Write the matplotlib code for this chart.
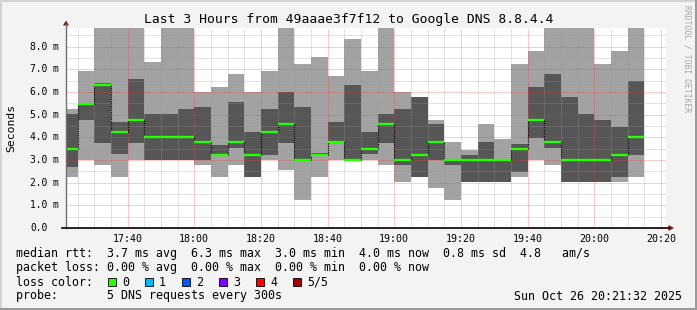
import matplotlib
matplotlib.use('Agg')
import matplotlib.pyplot as plt
import numpy as np
from matplotlib.lines import Line2D
from matplotlib.patches import Polygon, Rectangle
from matplotlib.transforms import blended_transform_factory

W, H = 697, 310
MONO = 'DejaVu Sans Mono'

# time axis in minutes after 17:00, window 17:21:32 -> 20:21:32
t_start = 21 + 32 / 60
t_end = t_start + 180
# bar edges: first partial bar, then 5 minute steps up to 20:15
edges = np.concatenate([[t_start], np.arange(25, 196, 5)])

# smoke values (ms): max, 4th, median, 2nd, min of 5 pings; 9.9 = off the top
rtt_max = [5.26, 6.93, 9.9, 9.9, 9.9, 7.34, 9.9, 9.9, 6.02, 6.23,
           6.80, 6.02, 6.93, 9.9, 7.24, 7.55, 6.71, 8.34, 6.93, 9.9,
           6.00, 5.79, 4.77, 3.80, 3.44, 4.57, 3.94, 7.24, 7.81, 9.9,
           9.9, 9.9, 7.24, 7.81, 9.9]
rtt_p4 = [5.04, 5.50, 6.38, 4.68, 6.58, 5.04, 5.04, 5.26, 5.35, 3.67,
          5.57, 4.23, 5.26, 6.00, 5.35, 3.30, 4.68, 6.31, 4.26, 5.04,
          5.26, 5.79, 4.57, 3.03, 3.23, 3.80, 3.03, 3.72, 6.23, 6.80,
          5.79, 5.04, 4.77, 4.46, 6.49]
rtt_med = [3.47, 5.46, 6.33, 4.26, 4.77, 4.01, 4.01, 4.01, 3.79, 3.23,
           3.79, 3.23, 4.26, 4.57, 3.01, 3.23, 3.79, 3.01, 3.48, 4.57,
           3.01, 3.23, 3.79, 3.01, 3.01, 3.01, 3.01, 3.47, 4.77, 3.79,
           3.01, 3.01, 3.01, 3.23, 4.01]
rtt_p2 = [2.70, 4.77, 3.77, 3.25, 3.77, 3.01, 3.01, 3.01, 3.01, 3.20,
          3.54, 2.23, 3.23, 3.77, 3.01, 3.20, 3.74, 3.01, 3.25, 3.77,
          2.76, 2.23, 3.01, 2.76, 2.01, 2.01, 2.01, 2.47, 3.98, 3.54,
          2.01, 2.01, 2.01, 2.23, 3.23]
rtt_min = [2.23, 3.01, 2.76, 2.23, 3.01, 3.01, 3.01, 3.01, 2.76, 2.23,
           2.76, 2.23, 3.01, 2.54, 1.22, 2.23, 3.01, 3.01, 3.01, 2.76,
           2.01, 2.23, 1.78, 1.22, 2.01, 2.01, 2.01, 2.23, 3.01, 2.76,
           2.01, 2.01, 2.01, 2.01, 2.23]

x_ticks = [40, 60, 80, 100, 120, 140, 160, 180, 200]
x_labels = ['17:40', '18:00', '18:20', '18:40', '19:00', '19:20', '19:40', '20:00', '20:20']
y_ticks = [0, 1, 2, 3, 4, 5, 6, 7, 8]
y_labels = ['0.0', '1.0 m', '2.0 m', '3.0 m', '4.0 m', '5.0 m', '6.0 m', '7.0 m', '8.0 m']

loss_labels = ['0', '1', '2', '3', '4', '5/5']
loss_colors = ['#26ff00', '#00b8ff', '#0059ff', '#7e00ff', '#ff0000', '#a00000']

legend_lines = [
    'median rtt:  3.7 ms avg  6.3 ms max  3.0 ms min  4.0 ms now  0.8 ms sd  4.8   am/s',
    'packet loss: 0.00 % avg  0.00 % max  0.00 % min  0.00 % now',
    'loss color:',
    'probe:       5 DNS requests every 300s',
]
stamp = 'Sun Oct 26 20:21:32 2025'
title = 'Last 3 Hours from 49aaae3f7f12 to Google DNS 8.8.4.4'


def fx(x):
    return x / W


def fy(y):
    return 1 - y / H


fig = plt.figure(figsize=(W / 100, H / 100), dpi=100, facecolor='#f3f3f3')

# outer 3d border
fig.add_artist(Rectangle((0, fy(2)), 1, 2 / H, transform=fig.transFigure, color='#d4d4d4', lw=0))
fig.add_artist(Rectangle((0, 0), 2 / W, 1, transform=fig.transFigure, color='#d4d4d4', lw=0))
fig.add_artist(Rectangle((0, 0), 1, 2 / H, transform=fig.transFigure, color='#9a9a9a', lw=0))
fig.add_artist(Rectangle((fx(W - 2), 0), 2 / W, 1, transform=fig.transFigure, color='#9a9a9a', lw=0))

ax = fig.add_axes([fx(66), fy(228), 600 / W, 200 / H])
ax.set_facecolor('white')
ax.set_xlim(t_start, t_end)
ax.set_ylim(0, 8.83)
for s in ax.spines.values():
    s.set_visible(False)

lefts = edges[:len(rtt_med)]
rights = np.append(edges[1:], 200)[:len(rtt_med)]
widths = rights - lefts

mx = np.array(rtt_max)
p4 = np.array(rtt_p4)
md = np.array(rtt_med)
p2 = np.array(rtt_p2)
mn = np.array(rtt_min)

# smoke
ax.bar(lefts, mx - mn, bottom=mn, width=widths, align='edge', color='#a2a2a2', lw=0, zorder=1)
ax.bar(lefts, p4 - p2, bottom=p2, width=widths, align='edge', color='#565656', lw=0, zorder=1.5)

# grid on top of the smoke
ax.set_xticks(x_ticks)
ax.set_xticks(np.arange(25, 201, 5), minor=True)
ax.set_yticks(y_ticks)
ax.set_yticks(np.arange(0.5, 8.6, 1.0), minor=True)
ax.set_axisbelow(False)
ax.grid(which='minor', color='#9a9a9a', alpha=0.55, lw=0.72, dashes=(1, 1))
ax.grid(which='major', color='#ff3030', alpha=0.5, lw=0.72, dashes=(1, 1))
ax.tick_params(which='both', length=0)
ax.set_yticklabels([])
ax.set_xticklabels(x_labels, fontsize=7.2, family=MONO, color='black')
ax.tick_params(axis='x', pad=4)

# median line, step connectors
for i in range(len(md)):
    ax.plot([lefts[i], rights[i]], [md[i], md[i]], color='#26ff00', lw=1.7,
            solid_capstyle='butt', zorder=4)
    if i > 0 and md[i] != md[i - 1]:
        ax.plot([lefts[i], lefts[i]], [md[i - 1], md[i]], color='black', lw=0.8,
                dashes=(1, 1), zorder=3.5)

# y tick labels, left aligned at x=30 px
tr = blended_transform_factory(fig.transFigure, ax.transData)
for v, lab in zip(y_ticks, y_labels):
    fig.text(fx(30), v, lab, transform=tr, fontsize=6.9, family=MONO, va='center', ha='left')

# axes lines and arrows
fig.add_artist(Line2D([fx(66), fx(66)], [fy(228), fy(24)], color='#707070', lw=1.0))
fig.add_artist(Line2D([fx(62), fx(669)], [fy(228), fy(228)], color='black', lw=1.2))
fig.add_artist(Polygon([[fx(63), fy(25.5)], [fx(69), fy(25.5)], [fx(66), fy(20.5)]],
                       closed=True, transform=fig.transFigure, color='#8a1010', lw=0))
fig.add_artist(Polygon([[fx(668.5), fy(225)], [fx(668.5), fy(231)], [fx(674), fy(228)]],
                       closed=True, transform=fig.transFigure, color='#8a1010', lw=0))

fig.text(fx(W / 2), fy(19), title, fontsize=9.4, family=MONO, ha='center', va='center')
fig.text(fx(11), fy(128), 'Seconds', fontsize=8.2, family=MONO, rotation=90,
         ha='center', va='center')
fig.text(fx(687), fy(59), 'RRDTOOL / TOBI OETIKER', fontsize=5.8, family=MONO,
         rotation=-90, ha='center', va='center', color='#a8a8a8')

# legend block
rows = [254, 268, 282, 296]
for y, line in zip(rows, legend_lines):
    fig.text(fx(16), fy(y), line, fontsize=8.4, family=MONO, ha='left', va='center')
fig.text(fx(682), fy(296), stamp, fontsize=8.4, family=MONO, ha='right', va='center')
for i, (lab, col) in enumerate(zip(loss_labels, loss_colors)):
    bx = 108 + 37 * i
    fig.add_artist(Rectangle((fx(bx), fy(286)), 7.5 / W, 8 / H, transform=fig.transFigure,
                             facecolor=col, edgecolor='black', lw=0.6))
    fig.text(fx(bx + 14), fy(282), lab, fontsize=8.4, family=MONO, ha='left', va='center')

fig.savefig('out.png', dpi=100, facecolor=fig.get_facecolor())
